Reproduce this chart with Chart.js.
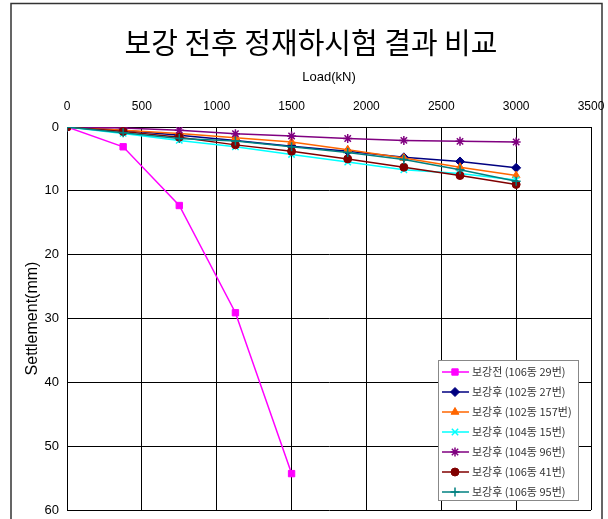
<!DOCTYPE html>
<html>
<head>
<meta charset="utf-8">
<script src="https://cdn.jsdelivr.net/npm/chart.js@4/dist/chart.umd.min.js"></script>
<style>
  html, body { margin: 0; padding: 0; background: #fff; }
  #wrap { width: 608px; height: 519px; position: relative; }
</style>
</head>
<body>
<div id="wrap"><canvas id="c" width="608" height="519"></canvas></div>
<script>
// Load steps (kN)
const loads = [0, 375, 750, 1125, 1500, 1875, 2250, 2625, 3000];

// Settlement (mm) per pile
const before_106_29 = [0, 3.1, 12.3, 29.1, 54.3];
const after_102_27  = [0, 0.5, 1.3, 2.1, 3.0, 3.8, 4.75, 5.4, 6.4];
const after_102_157 = [0, 0.5, 1.0, 1.7, 2.35, 3.55, 4.85, 6.3, 7.6];
const after_104_15  = [0, 1.0, 2.1, 3.1, 4.3, 5.5, 6.7, 7.3, 8.3];
const after_104_96  = [0, 0.15, 0.5, 1.05, 1.4, 1.8, 2.1, 2.25, 2.35];
const after_106_41  = [0, 0.7, 1.6, 2.8, 3.8, 5.0, 6.3, 7.6, 9.0];
const after_106_95  = [0, 0.9, 1.8, 2.2, 3.1, 4.0, 5.1, 6.7, 8.5];

const seriesLabels = [
  '보강전 (106동 29번)',
  '보강후 (102동 27번)',
  '보강후 (102동 157번)',
  '보강후 (104동 15번)',
  '보강후 (104동 96번)',
  '보강후 (106동 41번)',
  '보강후 (106동 95번)'
];
const seriesValues = [before_106_29, after_102_27, after_102_157, after_104_15, after_104_96, after_106_41, after_106_95];
const seriesColors = ['#FF00FF', '#000080', '#FF6600', '#00FFFF', '#800080', '#800000', '#008080'];
const seriesMarkers = ['rect', 'rectRot', 'triangle', 'crossRot', 'star', 'circle', 'cross'];

const xTicks = [0, 500, 1000, 1500, 2000, 2500, 3000, 3500];
const yTicks = [0, 10, 20, 30, 40, 50, 60];

const chartTitle = '보강 전후 정재하시험 결과 비교';
const LAT = "'Liberation Sans', 'Noto Sans CJK KR', sans-serif";
const KR = "'Noto Sans CJK KR', sans-serif";

const datasets = seriesValues.map((vals, i) => ({
  label: seriesLabels[i],
  data: vals.map((v, k) => ({ x: loads[k], y: v })),
  borderColor: seriesColors[i],
  backgroundColor: seriesColors[i],
  pointStyle: seriesMarkers[i],
  pointRadius: seriesMarkers[i] === 'circle' ? 4 : 4.5,
  pointBorderWidth: seriesMarkers[i] === 'star' || seriesMarkers[i].startsWith('cross') ? 1.5 : 1,
  borderWidth: 1.5,
  tension: 0,
  order: seriesValues.length - 1 - i
}));

// outer frame and main heading
const framePlugin = {
  id: 'frame',
  beforeDraw(chart) {
    const ctx = chart.ctx;
    ctx.save();
    ctx.fillStyle = '#fff';
    ctx.fillRect(0, 0, chart.width, chart.height);
    ctx.strokeStyle = '#333';
    ctx.lineWidth = 1.5;
    ctx.strokeRect(11, 3.5, 591, 540);
    ctx.fillStyle = '#000';
    ctx.font = '29px ' + KR;
    ctx.textAlign = 'center';
    ctx.textBaseline = 'middle';
    ctx.fillText(chartTitle, 311, 43);
    ctx.restore();
  }
};

// legend box inside the plot area
const boxLegend = {
  id: 'boxLegend',
  afterDraw(chart) {
    const ctx = chart.ctx;
    const x0 = 438, y0 = 360, w = 140, h = 140, row = 20;
    ctx.save();
    ctx.fillStyle = '#fff';
    ctx.fillRect(x0, y0, w, h);
    ctx.strokeStyle = '#888';
    ctx.lineWidth = 1;
    ctx.strokeRect(x0 + 0.5, y0 + 0.5, w, h);
    ctx.font = '11px ' + KR;
    ctx.textBaseline = 'middle';
    ctx.textAlign = 'left';
    chart.data.datasets.forEach((ds, i) => {
      const y = y0 + 12 + i * row;
      ctx.strokeStyle = ds.borderColor;
      ctx.lineWidth = 1.5;
      ctx.beginPath();
      ctx.moveTo(x0 + 4, y);
      ctx.lineTo(x0 + 31, y);
      ctx.stroke();
      ctx.fillStyle = ds.backgroundColor;
      ctx.lineWidth = ds.pointBorderWidth;
      Chart.helpers.drawPoint(ctx, { pointStyle: ds.pointStyle, radius: ds.pointRadius, rotation: 0, borderWidth: ds.pointBorderWidth }, x0 + 17, y);
      ctx.fillStyle = '#333';
      ctx.fillText(ds.label, x0 + 34, y);
    });
    ctx.restore();
  }
};

const plainNumber = v => String(v);

new Chart(document.getElementById('c'), {
  type: 'line',
  data: { datasets },
  options: {
    responsive: false,
    animation: false,
    layout: { padding: { left: 0, top: 61, right: 17, bottom: 9 } },
    plugins: {
      legend: { display: false },
      tooltip: { enabled: false },
      title: { display: false }
    },
    scales: {
      x: {
        type: 'linear',
        position: 'top',
        min: 0, max: 3500,
        afterBuildTicks(scale) { scale.ticks = xTicks.map(v => ({ value: v })); },
        afterFit(scale) {
          scale.height = 66;
          scale.paddingLeft = 0; scale.paddingRight = 0;
        },
        ticks: { color: '#000', font: { family: LAT, size: 12 }, padding: 13, maxRotation: 0, callback: plainNumber },
        grid: { color: '#000', lineWidth: 1, drawTicks: false },
        border: { color: '#000', width: 1 },
        title: { display: true, text: 'Load(kN)', color: '#000', font: { family: LAT, size: 13 }, padding: { top: 9, bottom: 0 } }
      },
      y: {
        type: 'linear',
        reverse: true,
        min: 0, max: 60,
        afterBuildTicks(scale) { scale.ticks = yTicks.map(v => ({ value: v })); },
        afterFit(scale) {
          scale.width = 67;
          scale.paddingTop = 0; scale.paddingBottom = 0;
        },
        ticks: { color: '#000', font: { family: LAT, size: 13 }, padding: 8, callback: plainNumber },
        grid: { color: '#000', lineWidth: 1, drawTicks: false },
        border: { color: '#000', width: 1 },
        title: { display: true, text: 'Settlement(mm)', color: '#000', font: { family: LAT, size: 16 }, padding: { top: 23, bottom: 0 } }
      }
    }
  },
  plugins: [framePlugin, boxLegend]
});
</script>
</body>
</html>
